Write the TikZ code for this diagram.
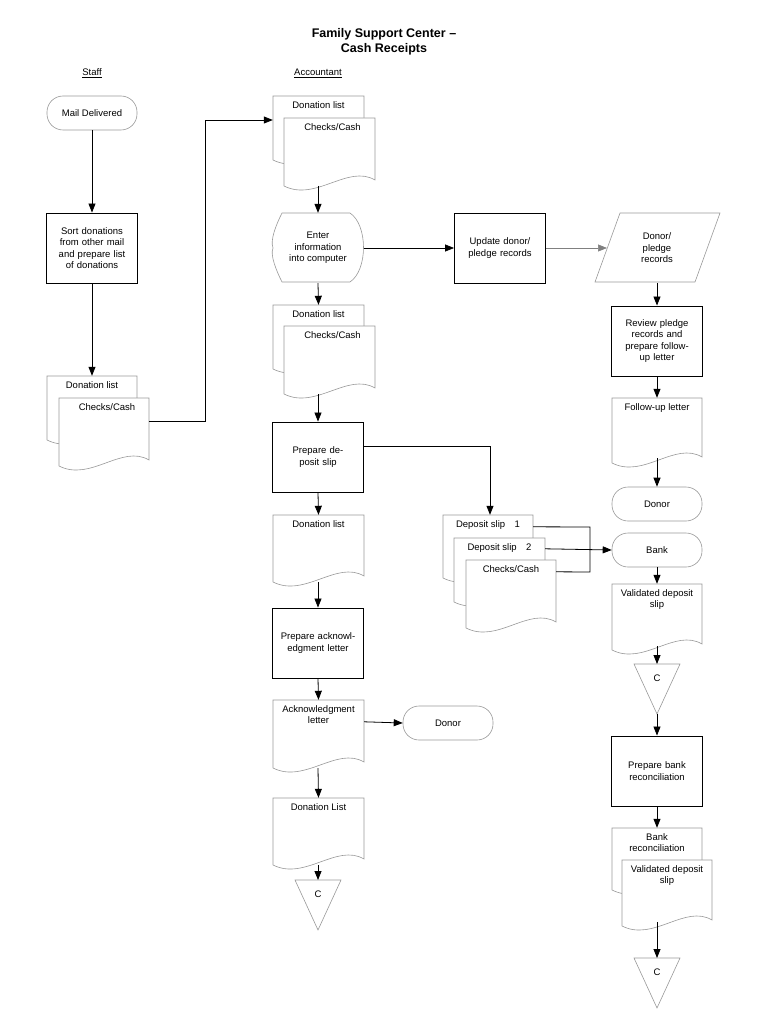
\documentclass[tikz,border=0pt]{standalone}
\usepackage{fontspec}
\setmainfont{Liberation Sans}
\usetikzlibrary{arrows.meta}
\begin{document}
\begin{tikzpicture}[x=1pt,y=-1pt,
  txt/.style={font=\fontsize{9.5}{11.5}\selectfont,align=center,inner sep=1pt},
  box/.style={draw,line width=0.9pt,minimum width=91pt,minimum height=70pt,text width=84pt,align=center,font=\fontsize{9.5}{11.5}\selectfont,inner sep=2pt},
  term/.style={draw=gray!80,line width=0.6pt,rounded corners=16pt,minimum width=90pt,minimum height=34pt,font=\fontsize{9.5}{11.5}\selectfont,fill=white},
  docline/.style={draw=gray!80,line width=0.6pt,fill=white},
  ghost/.style={draw=none,inner sep=0pt},
  con/.style={draw,line width=0.8pt,-{Triangle[length=9pt,width=7pt]}},
  line/.style={draw,line width=0.8pt}]
\useasboundingbox (0,0) rectangle (768,1024);
\newcommand\fsdoc[6]{%
  \draw[docline] (#2,#3) -- (#4,#3) -- (#4,#5-6) .. controls ({#4-(#4-#2)*0.3},#5-22) and ({#2+(#4-#2)*0.35},#5+16) .. (#2,#5) -- cycle;
  \node[ghost,minimum width={(#4-#2)*1pt},minimum height={(#5-#3)*1pt}] (#1) at ({(#2+#4)/2},{(#3+#5)/2}) {};
  \node[txt,anchor=north] (#1-t) at ({(#2+#4)/2},#3+4) {#6};}
\newcommand\fstri[3]{%
  \draw[docline] (#2-23,#3) -- (#2+23,#3) -- (#2,#3+50) -- cycle;
  \node[txt] (#1) at (#2,#3+14) {C};
  \coordinate (#1-top) at (#2,#3);}
% title
\node[font=\bfseries\fontsize{12.5}{15}\selectfont,align=center] (title) at (384,42) {Family Support Center --\\Cash Receipts};
\node[txt] (staff) at (92,73) {\underline{Staff}};
\node[txt] (acct) at (318,73) {\underline{Accountant}};
% staff column
\node[term] (mail) at (92,113) {Mail Delivered};
\node[box] (sort) at (92,248) {Sort donations from other mail and prepare list of donations};
\fsdoc{sdl}{47}{376}{137}{440}{Donation list}
\fsdoc{scc}{59}{398}{149}{466}{\hspace{6pt}Checks/Cash}
\draw[con] (mail) -- (sort);
\draw[con] (sort) -- (sdl.north);
% accountant column
\fsdoc{adl1}{273}{96}{364}{160}{Donation list}
\fsdoc{acc1}{284}{118}{375}{186}{\hspace{6pt}Checks/Cash}
\coordinate (j1) at (205,120);
\draw[con] ([yshift=-24pt]scc.north east) -| (j1) -- (adl1.north west |- j1);
\draw[docline] (282,213) -- (350,213) .. controls (368,225) and (368,270) .. (350,282) -- (282,282) .. controls (276,270) and (270,255) .. (273,248) .. controls (270,240) and (276,225) .. (282,213) -- cycle;
\node[ghost,minimum width=91pt,minimum height=70pt,txt] (enter) at (318,248) {Enter\\information\\into computer};
\draw[con] (318,186) -- (enter.north);
\node[box] (upd) at (500,248) {Update donor/ pledge records};
\draw[con] (enter.east) -- (upd.west);
\draw[docline] (620,213) -- (720,213) -- (695,282) -- (595,282) -- cycle;
\node[ghost,txt,minimum width=100pt,minimum height=70pt] (dpr) at (657,248) {Donor/\\pledge\\records};
\draw[draw=gray,line width=0.6pt,-{Triangle[length=9pt,width=7pt]}] (upd.east) -- (607,248);
\fsdoc{adl2}{273}{305}{364}{369}{Donation list}
\fsdoc{acc2}{284}{326}{375}{394}{\hspace{6pt}Checks/Cash}
\draw[con] (enter.south) -- (adl2.north);
\node[box] (pds) at (318,457) {Prepare deposit slip};
\draw[con] (318,394) -- (pds.north);
\fsdoc{ds1}{443}{515}{533}{578}{Deposit slip\quad 1}
\fsdoc{ds2}{454}{538}{545}{602}{Deposit slip\quad 2}
\fsdoc{dcc}{466}{560}{556}{628}{Checks/Cash}
\draw[con] ([yshift=11pt]pds.east) -| (ds1.north -| 490,0);
\fsdoc{adl3}{273}{515}{364}{582}{Donation list}
\draw[con] (pds.south) -- (adl3.north);
\node[box] (pal) at (318,643) {Prepare acknowledgment letter};
\draw[con] (318,582) -- (pal.north);
\fsdoc{ack}{273}{700}{364}{768}{Acknowledgment\\letter}
\draw[con] (pal.south) -- (ack.north);
\node[term] (donor1) at (448,723) {Donor};
\draw[con] ([yshift=-22pt]ack.north east) -- (donor1.west);
\fsdoc{adl4}{273}{798}{364}{865}{Donation List}
\draw[con] (318,768) -- (adl4.north);
\fstri{c1}{318}{880}
\draw[con] (318,865) -- (c1-top);
% right column
\node[box] (rev) at (657,341) {Review pledge records and prepare follow-up letter};
\draw[con] (dpr.south) -- (rev.north);
\fsdoc{ful}{612}{398}{702}{463}{Follow-up letter}
\draw[con] (rev.south) -- (ful.north);
\node[term] (donor2) at (657,504) {Donor};
\draw[con] (657,458) -- (donor2.north);
\node[term] (bank) at (657,550) {Bank};
\coordinate (j2) at (590,527);
\draw[line] ([yshift=-12pt]ds1.north east) -- (j2) -- (590,572) -- ([yshift=-12pt]dcc.north east);
\draw[con] ([yshift=-11pt]ds2.north east) -- (bank.west);
\fsdoc{vds}{612}{584}{702}{650}{Validated deposit\\slip}
\draw[con] (bank.south) -- (vds.north);
\fstri{c2}{657}{664}
\draw[con] (657,646) -- (c2-top);
\node[box] (pbr) at (657,771) {Prepare bank reconciliation};
\draw[con] (657,714) -- (pbr.north);
\fsdoc{brc}{612}{828}{702}{890}{Bank\\reconciliation}
\fsdoc{vds2}{622}{860}{712}{926}{Validated deposit\\slip}
\draw[con] (pbr.south) -- (brc.north);
\fstri{c3}{657}{958}
\draw[con] (657,922) -- (c3-top);
\end{tikzpicture}
\end{document}
